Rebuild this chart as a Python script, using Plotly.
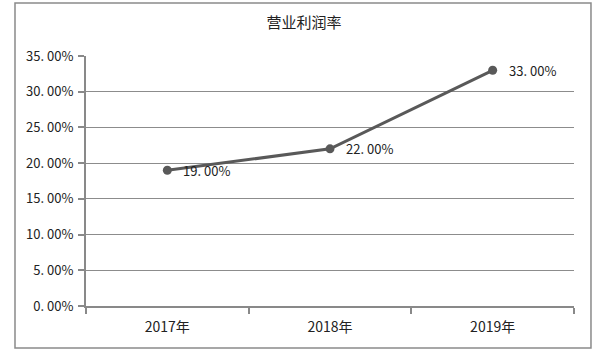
import plotly.graph_objects as go

categories = ["2017年", "2018年", "2019年"]
values = [19.0, 22.0, 33.0]
labels = ["19. 00%", "22. 00%", "33. 00%"]
y_tickvals = [0, 5, 10, 15, 20, 25, 30, 35]
y_ticktext = ["0. 00%", "5. 00%", "10. 00%", "15. 00%", "20. 00%", "25. 00%", "30. 00%", "35. 00%"]
title = "营业利润率"

FONT = "Noto Sans CJK SC, Liberation Sans, sans-serif"

fig = go.Figure()
fig.add_trace(go.Scatter(
    x=categories, y=values, mode="lines+markers",
    line=dict(color="#595959", width=3),
    marker=dict(color="#595959", size=9),
    cliponaxis=False,
    showlegend=False,
))

annotations = [
    dict(x=c, y=v, xref="x", yref="y", text=t, showarrow=False,
         xanchor="left", yanchor="middle", xshift=14, yshift=0,
         font=dict(size=13, color="#222222", family=FONT))
    for c, v, t in zip(categories, values, labels)
]

fig.update_layout(
    width=608, height=352,
    margin=dict(l=86, r=34, t=56, b=46),
    paper_bgcolor="white", plot_bgcolor="white",
    title=dict(text=title, x=0.5, xanchor="center", y=0.935, yanchor="middle",
               font=dict(size=15, color="#222222", family=FONT)),
    font=dict(family=FONT, size=13, color="#222222"),
    xaxis=dict(type="category", tickson="boundaries", ticks="outside", ticklen=6,
               tickcolor="#898989", tickwidth=1.5, showline=True, linecolor="#898989", linewidth=1.5,
               showgrid=False, tickfont=dict(size=14, color="#222222"),
               ticklabelstandoff=7, range=[-0.5, 2.5]),
    yaxis=dict(range=[0, 35], tickvals=y_tickvals, ticktext=y_ticktext,
               ticks="outside", ticklen=6, tickcolor="#898989", tickwidth=1.5,
               showline=True, linecolor="#898989", linewidth=2,
               showgrid=True, gridcolor="#8c8c8c", gridwidth=1.2,
               zeroline=False, tickfont=dict(size=13, color="#222222"),
               ticklabelstandoff=2),
    annotations=annotations,
    shapes=[dict(type="rect", xref="paper", yref="paper",
                 x0=-0.1455, x1=1.0348, y0=-0.168, y1=1.212,
                 line=dict(color="#8a8a8a", width=1.5), fillcolor="rgba(0,0,0,0)")],
)

fig.write_html("out.html")
